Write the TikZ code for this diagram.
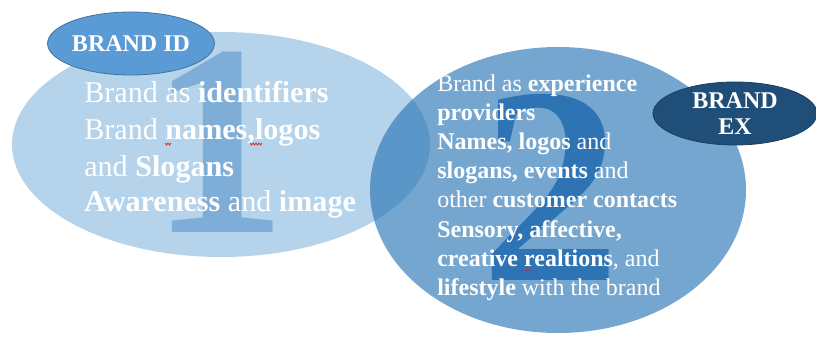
\documentclass[tikz,border=0pt]{standalone}
\usepackage{fontspec}
\setmainfont{Liberation Serif}
\definecolor{idlight}{RGB}{181,211,234}
\definecolor{onecol}{RGB}{126,173,215}
\definecolor{exbase}{RGB}{39,116,182}
\definecolor{twocol}{RGB}{46,116,181}
\definecolor{idtag}{RGB}{91,155,213}
\definecolor{idedge}{RGB}{65,113,156}
\definecolor{extag}{RGB}{31,78,121}
\definecolor{spell}{RGB}{220,40,40}
\usetikzlibrary{shapes.geometric}
\tikzset{
  bubble/.style={ellipse, draw=none, inner sep=0pt},
  tag/.style={ellipse, inner sep=0pt, text=white, font=\fontsize{18}{21}\selectfont\bfseries, align=center},
  bignum/.style={inner sep=0pt, anchor=base},
  lineA/.style={inner sep=0pt, anchor=base west, text=white, font=\fontsize{22.6}{27}\selectfont},
  lineB/.style={inner sep=0pt, anchor=base west, text=white, font=\fontsize{18}{22}\selectfont},
  squiggle/.style={draw=spell, line width=0.6pt}
}
\begin{document}
\begin{tikzpicture}[x=0.75pt,y=-0.75pt]
\useasboundingbox (0,0) rectangle (816,338);

% brand as identifier: light ellipse with numeral
\node[bubble, fill=idlight, minimum width=313.5pt, minimum height=168.75pt] (idbub) at (221,144.5) {};
\node[bignum, text=onecol, font=\fontsize{205}{205}\selectfont\bfseries] (one) at (219,233) {1};

% brand as experience: translucent ellipse with numeral
\fill[exbase, fill opacity=0.64] (558,190) ellipse [x radius=188, y radius=143];
\coordinate (exc) at (558,190);
\node[bignum, text=twocol, font=\fontsize{211}{211}\selectfont\bfseries] (two) at (551,280) {2};

% tags
\node[tag, fill=idtag, draw=idedge, line width=0.6pt, minimum width=106.5pt, minimum height=47.25pt] (idtag) at (131,43.5) {BRAND ID};
\node[tag, fill=extag, draw=extag!80!black, line width=0.6pt, minimum width=123pt, minimum height=47.25pt] (extag) at (735,113.5) {BRAND\\[-2pt]EX};

% text of the first ellipse
\node[lineA] (a1) at (84,103) {Brand as \textbf{identifiers}};
\node[lineA] (a2) at (84,140) {Brand \textbf{names,logos}};
\node[lineA] (a3) at (84,177) {and \textbf{Slogans}};
\node[lineA] (a4) at (84,212) {\textbf{Awareness} and \textbf{image}};

% text of the second ellipse
\node[lineB] (b1) at (437,92) {Brand as \textbf{experience}};
\node[lineB] (b2) at (437,121) {\textbf{providers}};
\node[lineB] (b3) at (437,150) {\textbf{Names, logos} and};
\node[lineB] (b4) at (437,179) {\textbf{slogans, events} and};
\node[lineB] (b5) at (437,208) {other \textbf{customer contacts}};
\node[lineB] (b6) at (437,237) {\textbf{Sensory, affective,}};
\node[lineB] (b7) at (437,266) {\textbf{creative realtions}, and};
\node[lineB] (b8) at (437,295) {\textbf{lifestyle} with the brand};

% spell-check marks
\draw[squiggle] (165,143) -- (166.5,145) -- (168,143) -- (169.5,145) -- (171,143);
\draw[squiggle] (250,143) -- (251.5,145) -- (253,143) -- (254.5,145) -- (256,143) -- (257.5,145) -- (259,143) -- (260.5,145) -- (262,143);
\draw[squiggle] (525,269) -- (526.5,271) -- (528,269) -- (529.5,271) -- (531,269);
\end{tikzpicture}
\end{document}
